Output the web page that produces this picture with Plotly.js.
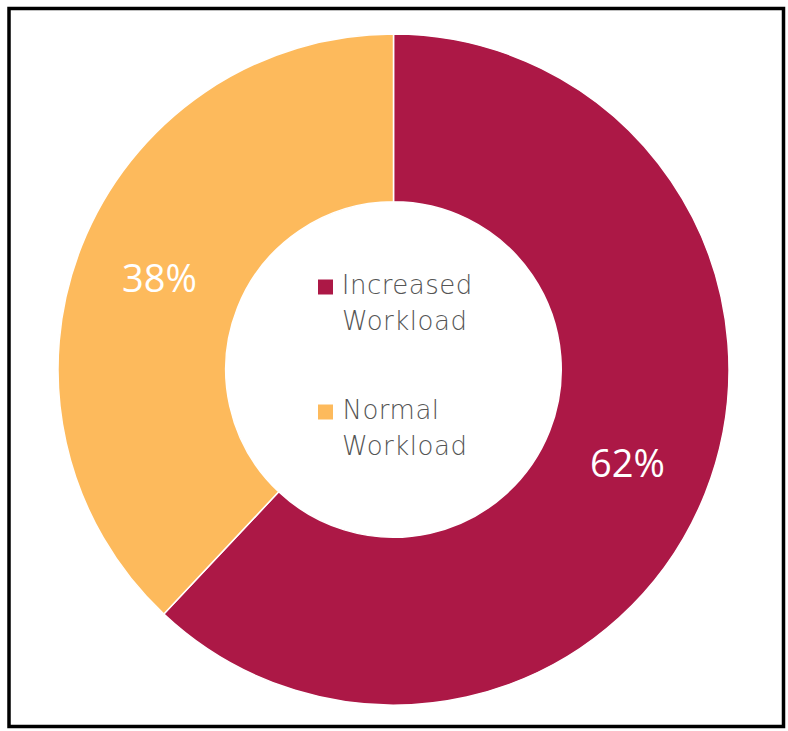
<!DOCTYPE html>
<html>
<head>
<meta charset="utf-8">
<script src="https://cdn.plot.ly/plotly-3.0.1.min.js"></script>
<style>
  html, body { margin: 0; padding: 0; background: #ffffff; }
  #chart { width: 788px; height: 731px; }
  /* slightly open tracking for the key text in the hole */
  #chart .annotation-text { letter-spacing: 0.5px; }
</style>
</head>
<body>
<div id="chart"></div>
<script>
// Workload share
const categories = ['Increased Workload', 'Normal Workload'];
const legendLines = [['Increased', 'Workload'], ['Normal', 'Workload']];
const shares = [62, 38];
const sliceColors = ['#AC1846', '#FDBA5C'];

const W = 788, H = 731;
const px = x => x / W;
const py = y => 1 - y / H;

// Legend drawn inside the hole: a coloured key square and two text lines per item
const legendBaselines = [[296, 332], [421, 457]];
const annotations = [];
const shapes = [];
legendLines.forEach((lines, i) => {
  lines.forEach((line, j) => {
    annotations.push({
      text: line,
      xref: 'paper', yref: 'paper',
      x: px(342), y: py(legendBaselines[i][j] + 6),
      xanchor: 'left', yanchor: 'bottom',
      showarrow: false,
      font: { family: 'DejaVu Sans, Liberation Sans, sans-serif', size: 26, color: '#555555', weight: 200 }
    });
  });
  const cy = legendBaselines[i][0] - 9;
  shapes.push({
    type: 'rect', xref: 'paper', yref: 'paper',
    x0: px(318), x1: px(333), y0: py(cy + 7.5), y1: py(cy - 7.5),
    fillcolor: sliceColors[i], line: { width: 0 }
  });
});

// Black frame around the figure
shapes.push({
  type: 'rect', xref: 'paper', yref: 'paper',
  x0: px(9), x1: px(783.5), y0: py(726.5), y1: py(8.5),
  line: { color: '#000000', width: 3.5 }, fillcolor: 'rgba(0,0,0,0)'
});

const trace = {
  type: 'pie',
  labels: categories,
  values: shares,
  hole: 0.5,
  sort: false,
  direction: 'clockwise',
  rotation: 0,
  marker: { colors: sliceColors, line: { color: '#ffffff', width: 1.5 } },
  textinfo: 'percent',
  textposition: 'inside',
  insidetextorientation: 'horizontal',
  textfont: { family: 'Open Sans, sans-serif', size: 38, color: '#ffffff' },
  hoverinfo: 'label+percent',
  domain: { x: [px(58), px(729)], y: [py(705), py(34)] },
  showlegend: false
};

const layout = {
  width: W, height: H,
  margin: { l: 0, r: 0, t: 0, b: 0 },
  paper_bgcolor: '#ffffff',
  showlegend: false,
  annotations: annotations,
  shapes: shapes
};

Plotly.newPlot('chart', [trace], layout, { displayModeBar: false, staticPlot: true });
</script>
</body>
</html>
